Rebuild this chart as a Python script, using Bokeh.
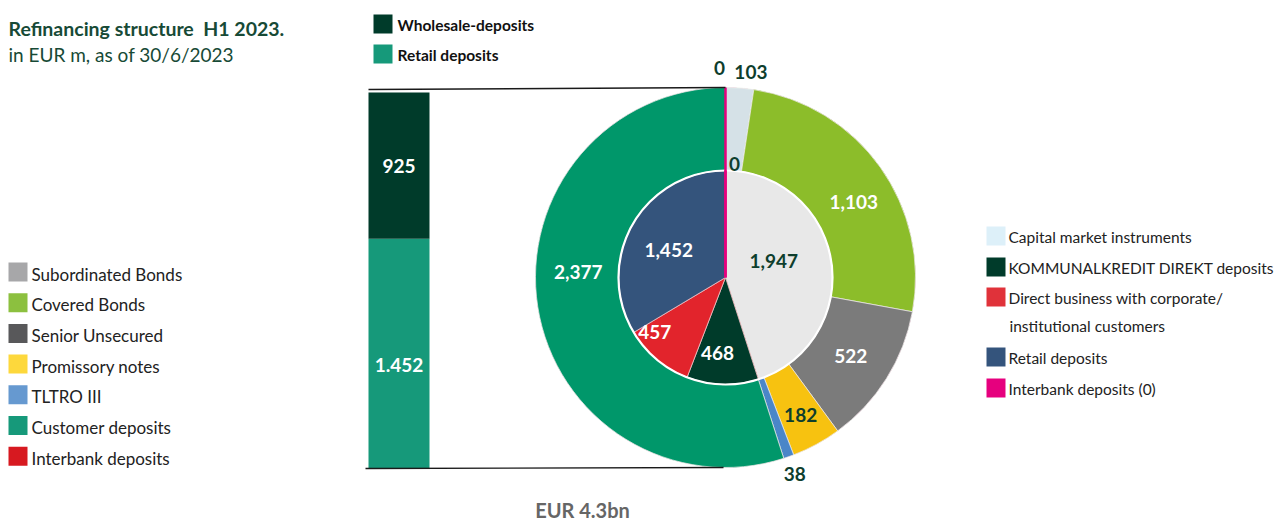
import math
from bokeh.plotting import figure
from bokeh.models import Range1d, ColumnDataSource
from bokeh.core.properties import value
from bokeh.embed import file_html
from bokeh.resources import INLINE

# ---------------- data ----------------
outer_labels = ["Interbank deposits", "Subordinated Bonds", "Covered Bonds", "Senior Unsecured",
                "Promissory notes", "TLTRO III", "Customer deposits"]
outer_values = [0, 103, 1103, 522, 182, 38, 2377]

inner_labels = ["Interbank deposits (0)", "Capital market instruments", "KOMMUNALKREDIT DIREKT deposits",
                "Direct business with corporate/ institutional customers", "Retail deposits"]
inner_values = [0, 1947, 468, 457, 1452]

bar_labels = ["Retail deposits", "Wholesale-deposits"]
bar_values = [1452, 925]

left_legend = ["Subordinated Bonds", "Covered Bonds", "Senior Unsecured", "Promissory notes",
               "TLTRO III", "Customer deposits", "Interbank deposits"]
right_legend = ["Capital market instruments", "KOMMUNALKREDIT DIREKT deposits",
                "Direct business with corporate/", "Retail deposits", "Interbank deposits (0)"]

title = "Refinancing structure\u00a0\u00a0H1 2023."
subtitle = "in EUR m, as of 30/6/2023"
total_text = "EUR 4.3bn"

# ---------------- styles ----------------
outer_colors = ["#e6007e", "#d5e1e7", "#8cbd2a", "#7b7b7b", "#f7c210", "#4a86c8", "#00976a"]
inner_colors = ["#e6007e", "#e8e8e8", "#003b2a", "#e2242c", "#34547c"]
bar_colors = ["#16997a", "#003b2a"]
left_colors = ["#a7a7a9", "#8cc03f", "#58585a", "#fdd83c", "#6699d0", "#16997a", "#d71920"]
right_colors = ["#ddf0f9", "#003b2a", "#e0323a", "#34547c", "#e6007e"]

W, H = 1280, 523
FONT = "Lato"
DG = "#0e3e2d"


def X(xp):
    return xp


def Y(yp):
    return H - yp


p = figure(width=W, height=H, x_range=Range1d(0, W), y_range=Range1d(0, H),
           output_backend="svg", toolbar_location=None, x_axis_type=None, y_axis_type=None,
           min_border=0, outline_line_color=None)
p.grid.visible = False
p.background_fill_color = "white"

cx, cy = X(725), Y(277)
R, r = 190, 107


def angles(vals):
    tot = sum(vals)
    out = []
    c = 0
    for v in vals:
        a0 = 2 * math.pi * c / tot
        c += v
        a1 = 2 * math.pi * c / tot
        out.append((a0, a1))
    return out


# outer ring
oa = angles(outer_values)
src_o = ColumnDataSource(dict(
    start=[math.pi / 2 - a1 for a0, a1 in oa],
    end=[math.pi / 2 - a0 for a0, a1 in oa],
    color=outer_colors,
))
p.annular_wedge(x=cx, y=cy, inner_radius=r - 2, outer_radius=R, start_angle="start", end_angle="end",
                fill_color="color", line_color="#eef3ee", line_width=0.7, source=src_o)

# inner pie
ia = angles(inner_values)
src_i = ColumnDataSource(dict(
    start=[math.pi / 2 - a1 for a0, a1 in ia],
    end=[math.pi / 2 - a0 for a0, a1 in ia],
    color=inner_colors,
))
p.wedge(x=cx, y=cy, radius=r, start_angle="start", end_angle="end",
        fill_color="color", line_color="#f0c8c8", line_width=0.8, source=src_i)
p.circle(x=cx, y=cy, radius=r, fill_color=None, line_color="white", line_width=2.2)

# zero slices (interbank) drawn as a line
for vals, ang, rad in [(outer_values, oa, R), (inner_values, ia, r)]:
    for v, (a0, a1) in zip(vals, ang):
        if v == 0:
            p.segment(x0=cx, y0=cy, x1=cx + rad * math.sin(a0), y1=cy + rad * math.cos(a0),
                      line_color="#e6007e", line_width=2.5)

# stacked bar
bar_bottom, bar_top = Y(468), Y(92)
scale = (bar_top - bar_bottom) / sum(bar_values)
bx = X(398.5)
bots, tops = [], []
c = bar_bottom
for v in bar_values:
    bots.append(c)
    c += v * scale
    tops.append(c)
p.vbar(x=bx, width=61, bottom=bots, top=tops, fill_color=bar_colors, line_color=None)

# connector lines
p.segment(x0=[X(368), X(365)], y0=[bar_top + 3, bar_bottom], x1=[cx, cx - 2], y1=[cy + R, cy - R],
          line_color="#1a1a1a", line_width=1.4)

# bar labels
bar_off = [-11, 0]
p.text(x=[bx] * 2, y=[(b + t) / 2 + o for b, t, o in zip(bots, tops, bar_off)],
       text=[f"{v:,}".replace(",", ".") for v in bar_values],
       text_font=value(FONT), text_font_style="bold", text_font_size="19px",
       text_color="white", text_align="center", text_baseline="middle")

# ring labels
o_rad = [210, 206, 149, 148, 157, 208, 149]
o_dx = [-6, 10, 7, 0, 0, 0, 0]
o_dy = [0, 0, 11, 0, 0, 0, -29]
o_col = [DG, DG, "white", "white", DG, DG, "white"]
ox, oy = [], []
for (a0, a1), rr, dx, dy in zip(oa, o_rad, o_dx, o_dy):
    m = (a0 + a1) / 2
    ox.append(cx + rr * math.sin(m) + dx)
    oy.append(cy + rr * math.cos(m) - dy)
p.text(x=ox, y=oy, text=[f"{v:,}" for v in outer_values], text_color=o_col,
       text_font=value(FONT), text_font_style="bold", text_font_size="19px",
       text_align="center", text_baseline="middle")

i_rad = [114, 50, 76, 89, 63]
i_dx = [9, 0, 0, 0, 0]
i_dy = [0, -4, 0, 0, 0]
i_col = [DG, DG, "white", "white", "white"]
iang_adj = [0, -6, 4.5, 12.5, -4]
ix, iy = [], []
for (a0, a1), rr, dx, dy, adj in zip(ia, i_rad, i_dx, i_dy, iang_adj):
    m = a0 if rr == 114 else (a0 + a1) / 2 + math.radians(adj)
    ix.append(cx + rr * math.sin(m) + dx)
    iy.append(cy + rr * math.cos(m) - dy)
p.text(x=ix, y=iy, text=[f"{v:,}" for v in inner_values], text_color=i_col,
       text_font=value(FONT), text_font_style="bold", text_font_size="19px",
       text_align="center", text_baseline="middle")

# title
p.text(x=[X(8)], y=[Y(28)], text=[title], text_font=value(FONT), text_font_style="bold",
       text_font_size="19.5px", text_color="#174a36", text_baseline="middle")
p.text(x=[X(8)], y=[Y(54)], text=[subtitle], text_font=value(FONT),
       text_font_size="19px", text_color="#174a36", text_baseline="middle")

# top legend
top_y = [Y(23.5), Y(53.5)]
p.rect(x=[X(382.5)] * 2, y=top_y, width=19, height=19, fill_color=bar_colors[::-1], line_color=None)
p.text(x=[X(397)] * 2, y=[t - 1 for t in top_y], text=bar_labels[::-1], text_font=value(FONT),
       text_font_style="bold", text_font_size="15.5px", text_color="#111111", text_baseline="middle")

# left legend
ly = [Y(271.5 + 30.7 * i) for i in range(len(left_legend))]
p.rect(x=[X(17.5)] * len(ly), y=ly, width=19, height=19, fill_color=left_colors, line_color=None)
p.text(x=[X(31)] * len(ly), y=[v - 2 for v in ly], text=left_legend, text_font=value(FONT),
       text_font_size="17px", text_color="#222222", text_baseline="middle")

# right legend
rsq = [Y(235.5), Y(266.5), Y(296.5), Y(356.5), Y(387.5)]
p.rect(x=[X(995.5)] * 5, y=rsq, width=19, height=19, fill_color=right_colors, line_color=None)
p.text(x=[X(1008)] * 5, y=[v - 1 for v in rsq], text=right_legend, text_font=value(FONT),
       text_font_size="15.5px", text_color="#222222", text_baseline="middle")
p.text(x=[X(1009)], y=[Y(325)], text=["institutional customers"], text_font=value(FONT),
       text_font_size="15.5px", text_color="#222222", text_baseline="middle")

# total
p.text(x=[X(582)], y=[Y(509)], text=[total_text], text_font=value(FONT), text_font_style="bold",
       text_font_size="20px", text_color="#666666", text_align="center", text_baseline="middle")

open("out.html", "w").write(file_html(p, INLINE))
